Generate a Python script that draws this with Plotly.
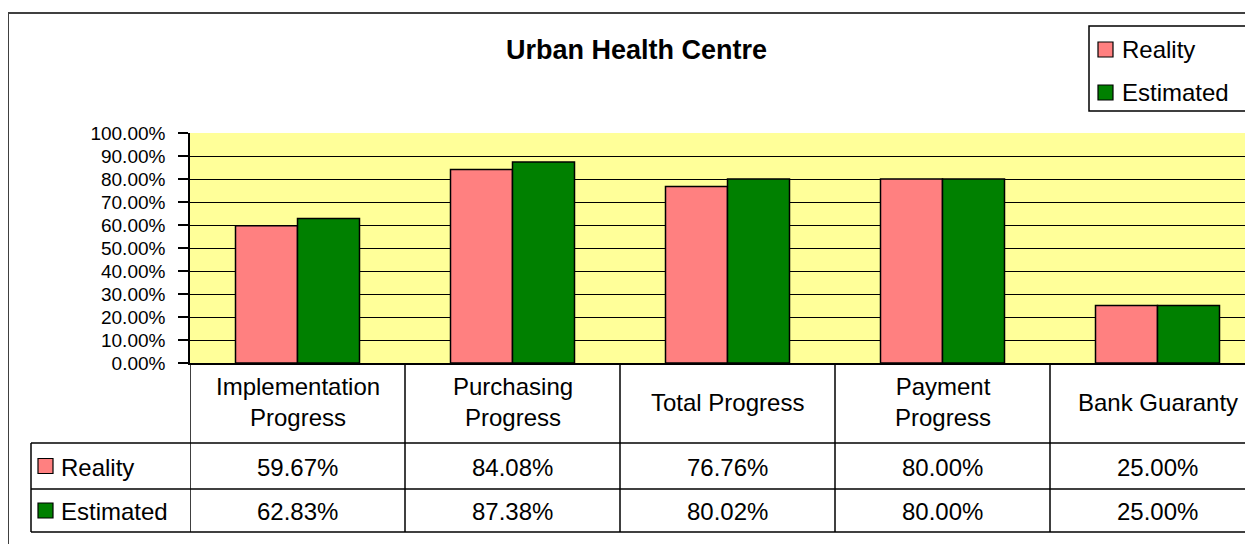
import plotly.graph_objects as go

# ---- data ----
categories = ["Implementation<br>Progress", "Purchasing<br>Progress", "Total Progress",
              "Payment<br>Progress", "Bank Guaranty"]
series_names = ["Reality", "Estimated"]
reality = [59.67, 84.08, 76.76, 80.00, 25.00]
estimated = [62.83, 87.38, 80.02, 80.00, 25.00]
series_values = [reality, estimated]
series_colors = ["#FF8080", "#008000"]
title_text = "Urban Health Centre"

# ---- layout geometry (reference pixels; page body adds an 8px offset) ----
OFF = 8
W, H = 1253 - OFF, 544 - OFF
L, T, B = 190, 133, 363          # plot area left, top, bottom in reference pixels
PW = 1253 - L
PH = B - T
CAT_W = 215.0                    # pixel width of one category

def X(px):
    return (px - L) / PW

def Y(py):
    return (B - py) / PH

FONT = "Liberation Sans, Arial, sans-serif"
TS = 24
n = len(categories)
xidx = list(range(n))

fig = go.Figure()
for name, vals, col in zip(series_names, series_values, series_colors):
    fig.add_trace(go.Bar(
        x=xidx, y=[v / 100 for v in vals], name=name,
        marker=dict(color=col, line=dict(color="black", width=1.5)),
        showlegend=False, hoverinfo="y+name",
    ))

shapes = []
annotations = []

def line(x0, y0, x1, y1, xref="paper", color="black", width=1.5):
    shapes.append(dict(type="line", xref=xref, yref="paper", x0=x0, y0=y0, x1=x1, y1=y1,
                       line=dict(color=color, width=width), layer="above"))

# outer chart border
line(X(8), Y(13), X(1400), Y(13), color="#404040", width=2)
line(X(8), Y(13), X(8), Y(600), color="#404040", width=2)

# data table grid
for py in (443, 489, 532):
    line(X(31), Y(py), X(1400), Y(py))
line(X(31), Y(443), X(31), Y(532))
for b in range(n + 1):
    line(b - 0.5, Y(363), b - 0.5, Y(532), xref="x")

# header row (categories)
for i, c in enumerate(categories):
    annotations.append(dict(x=i, y=Y(402), xref="x", yref="paper", text=c, showarrow=False,
                            xanchor="center", yanchor="middle",
                            font=dict(family=FONT, size=TS, color="black")))

# value rows
row_centers = [466, 510.5]
for name, vals, col, yc in zip(series_names, series_values, series_colors, row_centers):
    shapes.append(dict(type="rect", xref="paper", yref="paper",
                       x0=X(38), x1=X(53), y0=Y(yc - 7.5), y1=Y(yc + 7.5),
                       fillcolor=col, line=dict(color="black", width=1.2), layer="above"))
    annotations.append(dict(x=X(59), y=Y(yc + 1), xref="paper", yref="paper", text=name,
                            showarrow=False, xanchor="left", yanchor="middle",
                            font=dict(family=FONT, size=TS, color="black")))
    for i, v in enumerate(vals):
        annotations.append(dict(x=i, y=Y(yc + 1), xref="x", yref="paper", text=f"{v:.2f}%",
                                showarrow=False, xanchor="center", yanchor="middle",
                                font=dict(family=FONT, size=TS, color="black")))

# legend (custom box)
shapes.append(dict(type="rect", xref="paper", yref="paper", x0=X(1089), x1=X(1246),
                   y0=Y(26), y1=Y(111), line=dict(color="black", width=1.5),
                   fillcolor="white", layer="above"))
for name, col, yc in zip(series_names, series_colors, [49.5, 92.5]):
    shapes.append(dict(type="rect", xref="paper", yref="paper",
                       x0=X(1098), x1=X(1113), y0=Y(yc - 7.5), y1=Y(yc + 7.5),
                       fillcolor=col, line=dict(color="black", width=1.2), layer="above"))
    annotations.append(dict(x=X(1120), y=Y(yc), xref="paper", yref="paper", text=name,
                            showarrow=False, xanchor="left", yanchor="middle",
                            font=dict(family=FONT, size=TS, color="black")))

# title
annotations.append(dict(x=X(636), y=Y(50), xref="paper", yref="paper",
                        text="<b>" + title_text + "</b>", showarrow=False,
                        xanchor="center", yanchor="middle",
                        font=dict(family=FONT, size=27, color="black")))

fig.update_layout(
    width=W, height=H,
    margin=dict(l=L - OFF, r=0, t=T - OFF, b=544 - B, pad=0),
    paper_bgcolor="white", plot_bgcolor="#FFFF99",
    barmode="group", bargap=1 - 124 / CAT_W, bargroupgap=0,
    shapes=shapes, annotations=annotations,
    font=dict(family=FONT, color="black"),
)
fig.update_xaxes(range=[-0.5, -0.5 + PW / CAT_W], showticklabels=False, showgrid=False,
                 showline=True, linecolor="black", linewidth=1.5, ticks="", zeroline=False,
                 fixedrange=True)
fig.update_yaxes(range=[0, 1], dtick=0.1, tick0=0, tickformat=".2%", showgrid=True,
                 gridcolor="black", gridwidth=1.2, showline=True, linecolor="black",
                 linewidth=1.5, ticks="outside", ticklen=10, tickcolor="black",
                 tickwidth=1.5, ticklabelstandoff=9, zeroline=False,
                 tickfont=dict(family=FONT, size=19, color="black"), fixedrange=True)

fig.write_html("out.html")
